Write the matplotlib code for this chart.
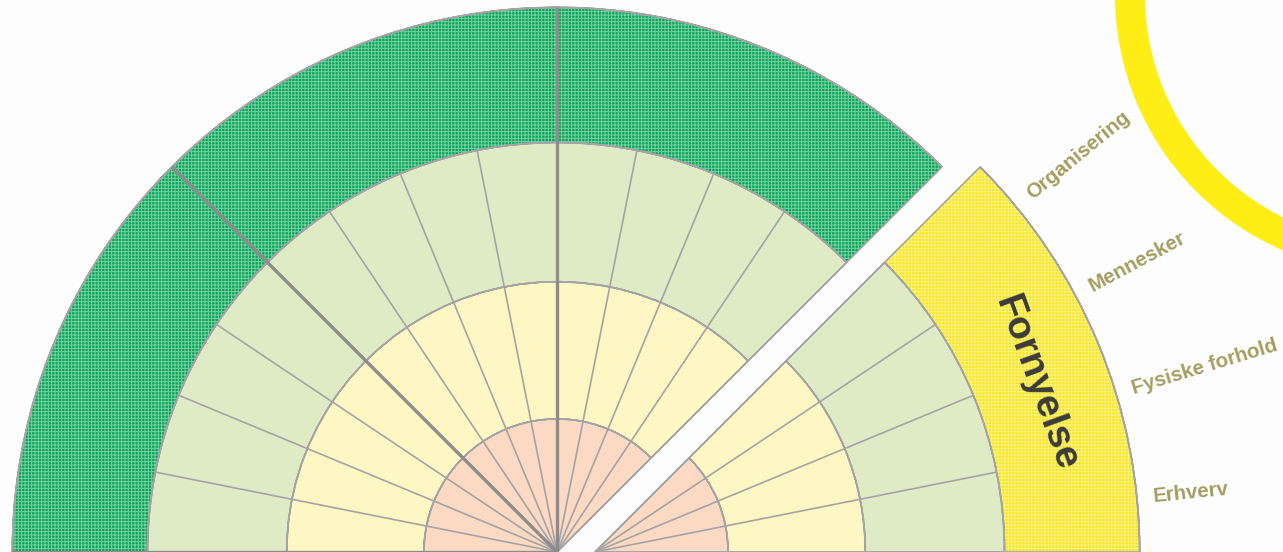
import numpy as np
import matplotlib.pyplot as plt
from matplotlib.patches import Wedge

# ---- data -------------------------------------------------------------
# ring edges in ring units, inner -> outer (last ring is the sector band)
ring_edges = [0, 0.975, 1.98, 3.0, 3.99]
ring_colors = ['#FCD9C3', '#FEF6C3', '#DFEBC5']

# main (left) part of the wheel: angles in degrees
main_start, main_end = 45, 315
main_segments = 24            # thin spokes, 11.25 deg each
main_band_dividers = [90, 135, 180, 225, 270]

# exploded sector on the right
right_start, right_end = 0, 45
right_segments = 4
right_title = 'Fornyelse'
right_labels = ['Erhverv', 'Fysiske forhold', 'Mennesker', 'Organisering']  # from 0 deg up

# ---- style --------------------------------------------------------------
px = 136.5                    # pixels per ring unit
cx0, cy0 = 557, 552           # wheel centre in picture pixels
shift = 38 / px               # explode offset of the right sector
spoke_c = '#A4A4A4'
thick_c = '#8C8C8C'
green, green_h = '#12A05A', '#6ED4A0'
yel, yel_h = '#F8E51E', '#FCF38A'
label_c = '#A49E60'

plt.rcParams['hatch.linewidth'] = 0.7
plt.rcParams['font.family'] = ['Liberation Sans', 'DejaVu Sans']

fig = plt.figure(figsize=(12.83, 5.52), dpi=100, facecolor='#FDFDFD')
ax = fig.add_axes([0, 0, 1, 1])
ax.set_facecolor('#FDFDFD')
ax.set_xlim(-cx0 / px, (1283 - cx0) / px)
ax.set_ylim(0, 552 / px)
ax.set_aspect('equal')
ax.axis('off')


def rings(center, a0, a1, nseg, band_color, band_hatch, dividers):
    # coloured inner rings
    for r0, r1, c in zip(ring_edges[:-2], ring_edges[1:-1], ring_colors):
        ax.add_patch(Wedge(center, r1, a0, a1, width=r1 - r0, fc=c, ec='none'))
    # outer band with fine white grid
    rb0, rb1 = ring_edges[-2], ring_edges[-1]
    ax.add_patch(Wedge(center, rb1, a0, a1, width=rb1 - rb0, fc=band_color,
                       ec=band_hatch, lw=0, hatch='+++++'))
    # ring circles
    for r in ring_edges[1:]:
        ax.add_patch(Wedge(center, r, a0, a1, width=0, fc='none', ec=spoke_c, lw=1.2))
    # thin spokes
    for a in np.linspace(a0, a1, nseg + 1):
        t = np.radians(a)
        ax.plot([center[0], center[0] + ring_edges[-2] * np.cos(t)],
                [center[1], center[1] + ring_edges[-2] * np.sin(t)],
                color=spoke_c, lw=1.2, solid_capstyle='butt')
    # sector edges
    for a in (a0, a1):
        t = np.radians(a)
        ax.plot([center[0], center[0] + rb1 * np.cos(t)],
                [center[1], center[1] + rb1 * np.sin(t)],
                color=spoke_c, lw=1.2, solid_capstyle='butt')
    # thick dividers
    for a in dividers:
        t = np.radians(a)
        ax.plot([center[0], center[0] + rb1 * np.cos(t)],
                [center[1], center[1] + rb1 * np.sin(t)],
                color=thick_c, lw=2.4, solid_capstyle='butt')


rings((0, 0), main_start, main_end, main_segments, green, green_h, main_band_dividers)
rc = (shift, 0)
rings(rc, right_start, right_end, right_segments, yel, yel_h, [])

# sector title inside the band
mid = (right_start + right_end) / 2 - 1.5
rt = (ring_edges[-2] + ring_edges[-1]) / 2 - 0.04
ax.text(rc[0] + rt * np.cos(np.radians(mid)), rc[1] + rt * np.sin(np.radians(mid)),
        right_title, rotation=mid - 91, ha='center', va='center',
        fontsize=28, fontweight='heavy', color='#3A3A3A', rotation_mode='anchor')

# segment labels outside the band
step = (right_end - right_start) / right_segments
for i, lab in enumerate(right_labels):
    a = right_start + step * (i + 0.5)
    t = np.radians(a)
    r = ring_edges[-1] + 0.12
    ax.text(rc[0] + r * np.cos(t), rc[1] + r * np.sin(t), lab, rotation=a,
            rotation_mode='anchor', ha='left', va='center',
            fontsize=14.8, fontweight='bold', color=label_c)

# neighbouring wheel ring peeking in at the top right
ax.add_patch(Wedge(((1393 - cx0) / px, (cy0 + 5) / px), 278 / px, 0, 360,
                   width=30 / px, fc='#FFEE16', ec='none'))

fig.savefig('out.png', dpi=100, facecolor=fig.get_facecolor())
